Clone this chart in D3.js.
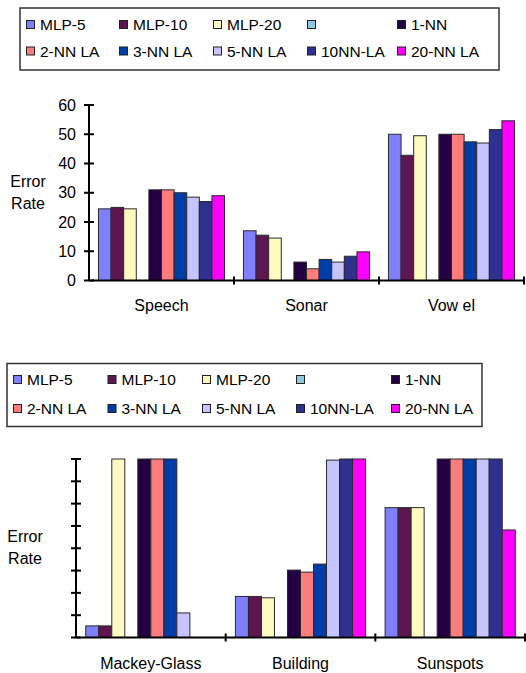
<!DOCTYPE html>
<html>
<head>
<meta charset="utf-8">
<script src="https://cdn.jsdelivr.net/npm/d3@7"></script>
<style>
  body { margin: 0; background: #fff; }
  svg { font-family: "Liberation Sans", Arial, sans-serif; }
</style>
</head>
<body>
<script>
// series, in legend order (the 4th one has no name and no bars)
const series = ['MLP-5', 'MLP-10', 'MLP-20', '', '1-NN', '2-NN LA', '3-NN LA', '5-NN LA', '10NN-LA', '20-NN LA']
const colors = ['#8080ff', '#5e1650', '#fdfbc2', '#90c8e2', '#220042', '#ff7c7c', '#003ca6', '#c6c4ff', '#303090', '#ff00ff']

// top chart
const topCats = ['Speech', 'Sonar', 'Vow el']
const topValues = [
  [24.5, 25, 24.5, null, 31, 31, 30, 28.5, 27, 29],
  [17, 15.5, 14.5, null, 6.3, 4, 7.2, 6.3, 8.3, 9.8],
  [50, 42.8, 49.5, null, 50, 50, 47.4, 47, 51.6, 54.6]
]
const topTicks = [0, 10, 20, 30, 40, 50, 60]

// bottom chart (no tick labels on the y axis)
const botCats = ['Mackey-Glass', 'Building', 'Sunspots']
const botValues = [
  [0.52, 0.52, 8, null, 8, 8, 8, 1.1, null, null],
  [1.84, 1.84, 1.78, null, 3.02, 2.93, 3.29, 7.95, 8, 8],
  [5.82, 5.82, 5.82, null, 8, 8, 8, 8, 8, 4.82]
]
const botTicks = [0, 1, 2, 3, 4, 5, 6, 7, 8]

const svg = d3.select('body').append('svg')
  .attr('width', 526)
  .attr('height', 673)

function legend (x, y, w, h, colX, rowY) {
  const g = svg.append('g')
  g.append('rect')
    .attr('x', x).attr('y', y).attr('width', w).attr('height', h)
    .attr('fill', '#fff').attr('stroke', '#333').attr('stroke-width', 1.5)
  series.forEach((s, i) => {
    const cx = colX[i % 5]
    const cy = rowY[Math.floor(i / 5)]
    g.append('rect')
      .attr('x', cx + 0.5).attr('y', cy - 4.5).attr('width', 8).attr('height', 8)
      .attr('fill', colors[i]).attr('stroke', '#222').attr('stroke-width', 1)
    g.append('text')
      .attr('x', cx + 14).attr('y', cy)
      .attr('dy', '0.35em')
      .attr('font-size', 15.5)
      .attr('fill', '#000')
      .text(s)
  })
}

function chart (cats, values, ticks, domain, xr, yr, showLabels, labelX, labelY, catY) {
  const x0 = d3.scaleBand().domain(cats).range(xr)
  const x1 = d3.scaleBand().domain(d3.range(series.length))
    .range([0, x0.bandwidth()]).paddingOuter(0.75)
  const y = d3.scaleLinear().domain(domain).range(yr)

  const g = svg.append('g')
  cats.forEach((c, ci) => {
    values[ci].forEach((v, si) => {
      if (v == null) return
      g.append('rect')
        .attr('x', x0(c) + x1(si))
        .attr('y', y(v))
        .attr('width', x1.bandwidth())
        .attr('height', y(0) - y(v))
        .attr('fill', colors[si])
        .attr('stroke', '#2a2a2a')
        .attr('stroke-width', 1)
    })
  })

  // y axis with crossing ticks
  g.append('line')
    .attr('x1', xr[0]).attr('x2', xr[0])
    .attr('y1', y(domain[0])).attr('y2', y(domain[1]))
    .attr('stroke', '#000').attr('stroke-width', 2)
  ticks.forEach(t => {
    g.append('line')
      .attr('x1', xr[0] - 5).attr('x2', xr[0] + 5)
      .attr('y1', y(t)).attr('y2', y(t))
      .attr('stroke', '#000').attr('stroke-width', 2)
    if (showLabels) {
      g.append('text')
        .attr('x', xr[0] - 13).attr('y', y(t))
        .attr('dy', '0.35em')
        .attr('text-anchor', 'end')
        .attr('font-size', 16)
        .text(t)
    }
  })

  // x axis with crossing ticks at category boundaries
  g.append('line')
    .attr('x1', xr[0]).attr('x2', xr[1])
    .attr('y1', y(0)).attr('y2', y(0))
    .attr('stroke', '#000').attr('stroke-width', 2)
  cats.forEach(c => {
    g.append('line')
      .attr('x1', x0(c) + x0.bandwidth()).attr('x2', x0(c) + x0.bandwidth())
      .attr('y1', y(0) - 4).attr('y2', y(0) + 4)
      .attr('stroke', '#000').attr('stroke-width', 2)
    g.append('text')
      .attr('x', x0(c) + x0.bandwidth() / 2)
      .attr('y', catY)
      .attr('dy', '0.35em')
      .attr('text-anchor', 'middle')
      .attr('font-size', 16)
      .text(c)
  })

  const lab = g.append('text')
    .attr('text-anchor', 'middle')
    .attr('font-size', 16)
  lab.append('tspan').attr('x', labelX).attr('y', labelY).attr('dy', '0.35em').text('Error')
  lab.append('tspan').attr('x', labelX).attr('y', labelY + 22).attr('dy', '0.35em').text('Rate')
}

legend(20, 8, 479, 62, [26, 119, 213, 307, 397], [25, 51.5])
chart(topCats, topValues, topTicks, [0, 60], [89, 524], [280.5, 105], true, 28, 181, 305)

legend(7, 363.5, 475, 63, [13, 107.5, 202, 296, 391], [380, 409])
chart(botCats, botValues, botTicks, [0, 8], [76, 525], [637.5, 459], false, 25, 536, 663)
</script>
</body>
</html>
